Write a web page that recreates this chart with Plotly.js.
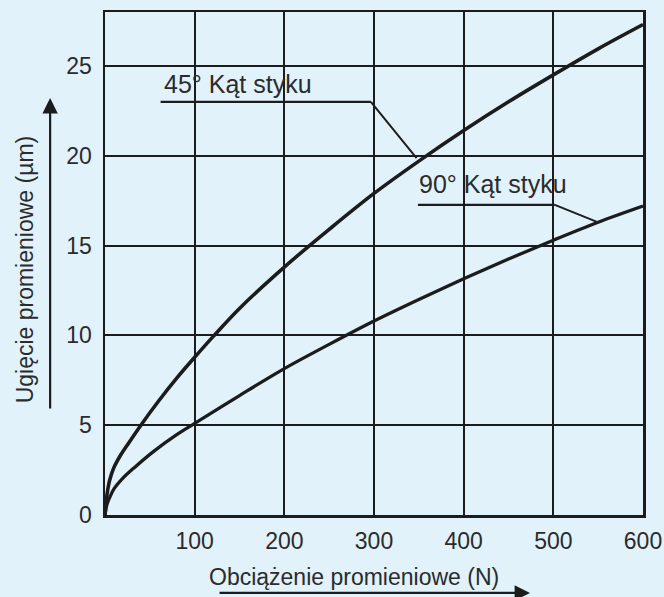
<!DOCTYPE html>
<html>
<head>
<meta charset="utf-8">
<script src="https://cdn.plot.ly/plotly-3.0.1.min.js"></script>
<style>
html,body{margin:0;padding:0;background:#e1f2fb;}
#chart{width:664px;height:597px;}
</style>
</head>
<body>
<div id="chart"></div>
<script>
// Data
const load45 = [0, 2, 5, 10, 17, 27, 40, 60, 80, 100, 120, 150, 200, 250, 300, 350, 400, 450, 500, 550, 600];
const defl45 = [0, 1.05, 1.9, 2.65, 3.3, 4.05, 5.0, 6.36, 7.62, 8.78, 9.9, 11.5, 13.8, 15.9, 17.9, 19.7, 21.4, 23.0, 24.5, 25.95, 27.3];
const load90 = [0, 2, 5, 10, 20, 33, 55, 80, 100, 150, 200, 250, 300, 350, 400, 450, 500, 550, 600];
const defl90 = [0, 0.55, 0.95, 1.45, 2.05, 2.65, 3.57, 4.47, 5.1, 6.65, 8.15, 9.5, 10.8, 12.0, 13.15, 14.25, 15.3, 16.3, 17.2];
const xTicks = [100, 200, 300, 400, 500, 600];
const yTicks = [0, 5, 10, 15, 20, 25];
const label45 = "45° Kąt styku";
const label90 = "90° Kąt styku";
const xTitle = "Obciążenie promieniowe (N)";
const yTitle = "Ugięcie promieniowe (µm)";

const ink = '#1c1c1c';
const txt = '#2b2b2b';
const fontFam = 'Liberation Sans, Arial, Helvetica, sans-serif';

const traces = [
  {x: load45, y: defl45, mode: 'lines', line: {color: ink, width: 3.6, shape: 'spline', smoothing: 1}, hoverinfo: 'skip', name: label45},
  {x: load90, y: defl90, mode: 'lines', line: {color: ink, width: 3.3, shape: 'spline', smoothing: 1}, hoverinfo: 'skip', name: label90}
];

const layout = {
  width: 664, height: 597,
  margin: {l: 105, r: 21, t: 12, b: 82},
  paper_bgcolor: '#e1f2fb',
  plot_bgcolor: '#e1f2fb',
  showlegend: false,
  font: {family: fontFam, size: 23, color: txt},
  xaxis: {
    range: [0, 600], tickvals: xTicks, ticktext: xTicks.map(String),
    showgrid: true, gridcolor: ink, gridwidth: 2,
    showline: true, linecolor: ink, linewidth: 2.5, mirror: true,
    ticks: 'outside', ticklen: 4, tickcolor: 'rgba(0,0,0,0)',
    zeroline: false, fixedrange: true,
    tickfont: {family: fontFam, size: 23, color: txt}
  },
  yaxis: {
    range: [0, 28], tickvals: yTicks, ticktext: yTicks.map(String),
    showgrid: true, gridcolor: ink, gridwidth: 2,
    showline: true, linecolor: ink, linewidth: 2.5, mirror: true,
    ticks: 'outside', ticklen: 6, tickcolor: 'rgba(0,0,0,0)',
    zeroline: false, fixedrange: true,
    tickfont: {family: fontFam, size: 23, color: txt}
  },
  shapes: [
    {type: 'line', xref: 'x', yref: 'y', x0: 62, y0: 23.0, x1: 296.5, y1: 23.0, line: {color: ink, width: 2.2}},
    {type: 'line', xref: 'x', yref: 'y', x0: 296.5, y0: 23.0, x1: 347.5, y1: 19.86, line: {color: ink, width: 2}},
    {type: 'line', xref: 'x', yref: 'y', x0: 349, y0: 17.26, x1: 501.7, y1: 17.26, line: {color: ink, width: 2.2}},
    {type: 'line', xref: 'x', yref: 'y', x0: 501.7, y0: 17.26, x1: 548, y1: 16.33, line: {color: ink, width: 2}}
  ],
  annotations: [
    {text: label45, xref: 'x', yref: 'y', x: 64, y: 24.0, xanchor: 'left', yanchor: 'middle', showarrow: false,
     font: {family: fontFam, size: 25, color: txt}},
    {text: label90, xref: 'x', yref: 'y', x: 348, y: 18.4, xanchor: 'left', yanchor: 'middle', showarrow: false,
     font: {family: fontFam, size: 25, color: txt}},
    {text: xTitle, xref: 'paper', yref: 'paper', x: 0.4637, y: -0.123, xanchor: 'center', yanchor: 'middle', showarrow: false,
     font: {family: fontFam, size: 23, color: txt}},
    {text: yTitle, xref: 'paper', yref: 'paper', x: -0.149, y: 0.488, xanchor: 'center', yanchor: 'middle', showarrow: false, textangle: -90,
     font: {family: fontFam, size: 23, color: txt}},
    {text: '', xref: 'paper', yref: 'paper', x: 0.790, y: -0.155, showarrow: true, ax: -312, ay: 0,
     arrowhead: 2, arrowsize: 1.4, arrowwidth: 2.2, arrowcolor: ink},
    {text: '', xref: 'paper', yref: 'paper', x: -0.102, y: 0.829, showarrow: true, ax: 0, ay: 312,
     arrowhead: 2, arrowsize: 1.4, arrowwidth: 2.2, arrowcolor: ink}
  ]
};

Plotly.newPlot('chart', traces, layout, {displayModeBar: false, staticPlot: true});
</script>
</body>
</html>
